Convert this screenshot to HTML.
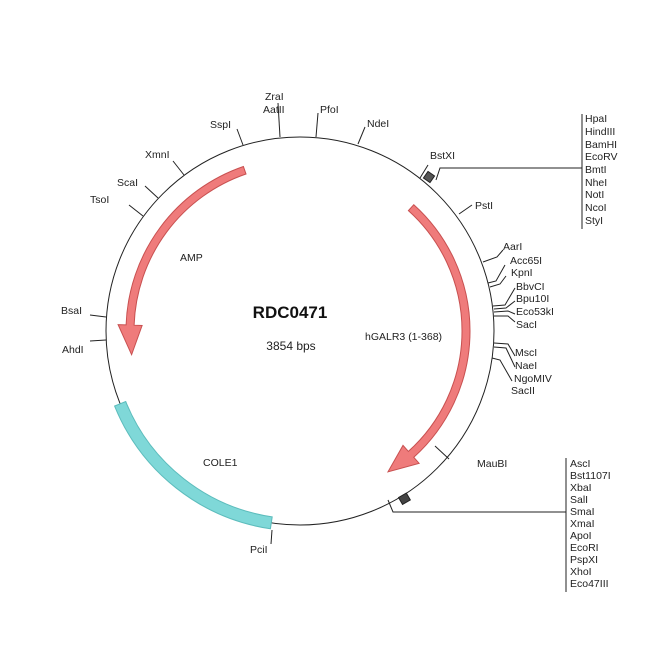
<!DOCTYPE html>
<html><head><meta charset="utf-8"><style>
html,body{margin:0;padding:0;background:#fff;}
svg{display:block;}
text{font-family:"Liberation Sans",Arial,sans-serif;font-size:10.5px;fill:#222;}
</style></head><body>
<svg width="650" height="650" viewBox="0 0 650 650" xmlns="http://www.w3.org/2000/svg">
<rect width="650" height="650" fill="#fff"/>
<circle cx="300" cy="331" r="194" fill="none" stroke="#222" stroke-width="1"/>
<!-- COLE1 -->
<path d="M270.4,528.8 A200,200 0 0 1 114.6,406 L125.7,401.5 A188,188 0 0 0 272.2,516.9 Z" fill="#7fd8d8" stroke="#5cbcbc" stroke-width="1"/>
<!-- AMP -->
<path d="M243.4,166.5 A174,174 0 0 0 126.1,324.9 L118.1,324.6 L131.6,354.7 L142.1,325.5 L134.1,325.2 A166,166 0 0 1 246,174 Z" fill="#ef7b7b" stroke="#c85050" stroke-width="1"/>
<!-- hGALR3 -->
<path d="M413.8,204.7 A170,170 0 0 1 413.8,457.3 L419.1,463.3 L388,471.8 L403,445.4 L408.4,451.4 A162,162 0 0 0 408.4,210.6 Z" fill="#ef7b7b" stroke="#c85050" stroke-width="1"/>

<g stroke="#222" stroke-width="1" fill="none">
<line x1="280" y1="137" x2="278" y2="103"/>
<line x1="316" y1="137" x2="318" y2="113"/>
<line x1="358" y1="144" x2="365" y2="127"/>
<line x1="243" y1="145" x2="237" y2="129"/>
<line x1="184" y1="175" x2="173" y2="161"/>
<line x1="158" y1="198" x2="145" y2="186"/>
<line x1="143" y1="216" x2="129" y2="205"/>
<line x1="106" y1="317" x2="90" y2="315"/>
<line x1="106" y1="340" x2="90" y2="341"/>
<line x1="420" y1="178" x2="428" y2="165"/>
<line x1="459" y1="214" x2="472" y2="205"/>
<polyline points="483,262 497,257 503,250"/>
<polyline points="488,283 496,281 505,265"/>
<polyline points="490,287 500,284 506,276"/>
<polyline points="493,306 505,305 515,288"/>
<polyline points="494,309 506,308 515,301"/>
<polyline points="494,312 508,311 515,314"/>
<polyline points="494,316 508,316 515,322"/>
<polyline points="494,343 508,344 515,356"/>
<polyline points="494,347 506,348 515,367"/>
<polyline points="492,358 500,360 512,381"/>
<line x1="435" y1="446" x2="449" y2="459"/>
<line x1="272" y1="530" x2="271" y2="544"/>
<!-- BstXI cluster leader -->
<polyline points="436,180 440,168 582,168"/>
<line x1="582" y1="114" x2="582" y2="229"/>
<!-- bottom cluster leader -->
<polyline points="388,500 393,512 566,512"/>
<line x1="566" y1="458" x2="566" y2="592"/>
</g>
<rect x="425" y="173" width="8" height="8" fill="#555" stroke="#222" transform="rotate(35 429 177)"/>
<rect x="400" y="495" width="9" height="8" fill="#444" stroke="#222" transform="rotate(-30 404 499)"/>

<text x="265" y="100">ZraI</text>
<text x="263" y="113">AatII</text>
<text x="320" y="113">PfoI</text>
<text x="367" y="127">NdeI</text>
<text x="210" y="128">SspI</text>
<text x="145" y="158">XmnI</text>
<text x="117" y="186">ScaI</text>
<text x="90" y="203">TsoI</text>
<text x="61" y="314">BsaI</text>
<text x="62" y="353">AhdI</text>
<text x="430" y="159">BstXI</text>
<text x="475" y="209">PstI</text>
<text x="503" y="250">AarI</text>
<text x="510" y="264">Acc65I</text>
<text x="511" y="276">KpnI</text>
<text x="516" y="290">BbvCI</text>
<text x="516" y="302">Bpu10I</text>
<text x="516" y="315">Eco53kI</text>
<text x="516" y="328">SacI</text>
<text x="515" y="356">MscI</text>
<text x="515" y="369">NaeI</text>
<text x="514" y="382">NgoMIV</text>
<text x="511" y="394">SacII</text>
<text x="477" y="467">MauBI</text>
<text x="250" y="553">PciI</text>
<g>
<text x="585" y="122">HpaI</text>
<text x="585" y="135">HindIII</text>
<text x="585" y="148">BamHI</text>
<text x="585" y="160">EcoRV</text>
<text x="585" y="173">BmtI</text>
<text x="585" y="186">NheI</text>
<text x="585" y="198">NotI</text>
<text x="585" y="211">NcoI</text>
<text x="585" y="224">StyI</text>
</g>
<g>
<text x="570" y="467">AscI</text>
<text x="570" y="479">Bst1107I</text>
<text x="570" y="491">XbaI</text>
<text x="570" y="503">SalI</text>
<text x="570" y="515">SmaI</text>
<text x="570" y="527">XmaI</text>
<text x="570" y="539">ApoI</text>
<text x="570" y="551">EcoRI</text>
<text x="570" y="563">PspXI</text>
<text x="570" y="575">XhoI</text>
<text x="570" y="587">Eco47III</text>
</g>
<text x="180" y="261">AMP</text>
<text x="365" y="340">hGALR3 (1-368)</text>
<text x="203" y="466">COLE1</text>
<text x="290" y="318" text-anchor="middle" style="font-size:17px;font-weight:bold;fill:#111">RDC0471</text>
<text x="291" y="350" text-anchor="middle" style="font-size:12px">3854 bps</text>
</svg>
</body></html>
